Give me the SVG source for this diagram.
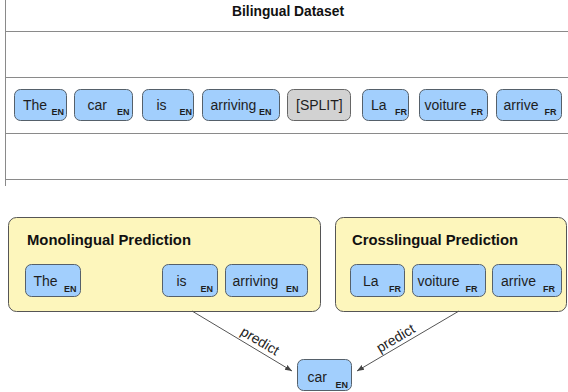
<svg xmlns="http://www.w3.org/2000/svg" width="568" height="392" viewBox="0 0 568 392">
<style>
.grid{stroke:#8a8a8a;stroke-width:1;fill:none}
.tok{fill:#a2cffd;stroke:#55606a;stroke-width:1}
.split{fill:#d2d2d2;stroke:#666;stroke-width:1}
.panel{fill:#fdf6bc;stroke:#555;stroke-width:1}
.t{font-family:"Liberation Sans",Arial,sans-serif;font-size:14px;fill:#1e1e1e}
.s{font-family:"Liberation Sans",Arial,sans-serif;font-size:9px;font-weight:bold;fill:#1e1e1e}
.h{font-family:"Liberation Sans",Arial,sans-serif;font-size:14px;font-weight:bold;fill:#111}
.edge{stroke:#555;stroke-width:1;fill:none;marker-end:url(#ah)}
.lbl{font-family:"Liberation Sans",Arial,sans-serif;font-size:14px;fill:#222;text-anchor:middle}
</style>
<defs>
<marker id="ah" viewBox="0 0 10 10" refX="10" refY="5" markerWidth="7" markerHeight="7" orient="auto" markerUnits="userSpaceOnUse">
<path d="M0,1 L10,5 L0,9 Z" fill="#444"/>
</marker>
</defs>
<rect width="568" height="392" fill="#fff"/>
<g id="dataset">
<line class="grid" x1="5.5" y1="0" x2="5.5" y2="186"/>
<line class="grid" x1="5" y1="31.5" x2="568" y2="31.5"/>
<line class="grid" x1="5" y1="77.5" x2="568" y2="77.5"/>
<line class="grid" x1="5" y1="133.5" x2="568" y2="133.5"/>
<line class="grid" x1="5" y1="179.5" x2="568" y2="179.5"/>
<text class="h" x="232" y="16" font-size="13" textLength="112" lengthAdjust="spacingAndGlyphs">Bilingual Dataset</text>
</g>
<g id="row-the"><rect class="tok" x="14.5" y="89.5" width="52" height="31" rx="6"/><text class="t" x="23" y="110">The</text><text class="s" x="51.5" y="115">EN</text></g>
<g id="row-car"><rect class="tok" x="74.5" y="89.5" width="58" height="31" rx="6"/><text class="t" x="87.5" y="110">car</text><text class="s" x="117" y="115">EN</text></g>
<g id="row-is"><rect class="tok" x="142.5" y="89.5" width="51" height="31" rx="6"/><text class="t" x="156.5" y="110">is</text><text class="s" x="179.5" y="115">EN</text></g>
<g id="row-arriving"><rect class="tok" x="202.5" y="89.5" width="77" height="31" rx="6"/><text class="t" x="210.5" y="110">arriving</text><text class="s" x="259" y="115">EN</text></g>
<g id="row-split"><rect class="split" x="287.5" y="89.5" width="63" height="31" rx="6"/><text class="t" x="296" y="110">[SPLIT]</text></g>
<g id="row-la"><rect class="tok" x="362.5" y="89.5" width="46" height="31" rx="6"/><text class="t" x="371" y="110">La</text><text class="s" x="395" y="115">FR</text></g>
<g id="row-voiture"><rect class="tok" x="419.5" y="89.5" width="68" height="31" rx="6"/><text class="t" x="424.5" y="110">voiture</text><text class="s" x="471" y="115">FR</text></g>
<g id="row-arrive"><rect class="tok" x="496.5" y="89.5" width="65" height="31" rx="6"/><text class="t" x="503.5" y="110">arrive</text><text class="s" x="544.5" y="115">FR</text></g>

<g id="mono">
<rect class="panel" x="8.5" y="217.5" width="312" height="94" rx="8"/>
<text class="h" x="27" y="245" textLength="164" lengthAdjust="spacingAndGlyphs">Monolingual Prediction</text>
</g>
<g id="mono-the"><rect class="tok" x="25.5" y="264.5" width="55" height="32" rx="6"/><text class="t" x="33.5" y="286">The</text><text class="s" x="64" y="292">EN</text></g>
<g id="mono-is"><rect class="tok" x="162.5" y="264.5" width="55" height="32" rx="6"/><text class="t" x="176.5" y="286">is</text><text class="s" x="200.5" y="292">EN</text></g>
<g id="mono-arriving"><rect class="tok" x="225.5" y="264.5" width="82" height="32" rx="6"/><text class="t" x="232.5" y="286">arriving</text><text class="s" x="286" y="292">EN</text></g>

<g id="cross">
<rect class="panel" x="335.5" y="217.5" width="231" height="94" rx="8"/>
<text class="h" x="352" y="245" textLength="166" lengthAdjust="spacingAndGlyphs">Crosslingual Prediction</text>
</g>
<g id="cross-la"><rect class="tok" x="350.5" y="264.5" width="54" height="32" rx="6"/><text class="t" x="363" y="286">La</text><text class="s" x="389" y="292">FR</text></g>
<g id="cross-voiture"><rect class="tok" x="412.5" y="264.5" width="73" height="32" rx="6"/><text class="t" x="417.5" y="286">voiture</text><text class="s" x="465.5" y="292">FR</text></g>
<g id="cross-arrive"><rect class="tok" x="492.5" y="264.5" width="69" height="32" rx="6"/><text class="t" x="501" y="286">arrive</text><text class="s" x="543" y="292">FR</text></g>

<g id="target-car"><rect class="tok" x="297.5" y="359.5" width="54" height="31" rx="6"/><text class="t" x="307.5" y="381.5">car</text><text class="s" x="335.5" y="387.5">EN</text></g>

<g id="connectors">
<line class="edge" x1="192" y1="311" x2="292" y2="371"/>
<line class="edge" x1="459" y1="311" x2="357" y2="371"/>
<text class="lbl" transform="translate(257.5,345) rotate(31)">predict</text>
<text class="lbl" transform="translate(398,342.3) rotate(-30.5)">predict</text>
</g>
</svg>
